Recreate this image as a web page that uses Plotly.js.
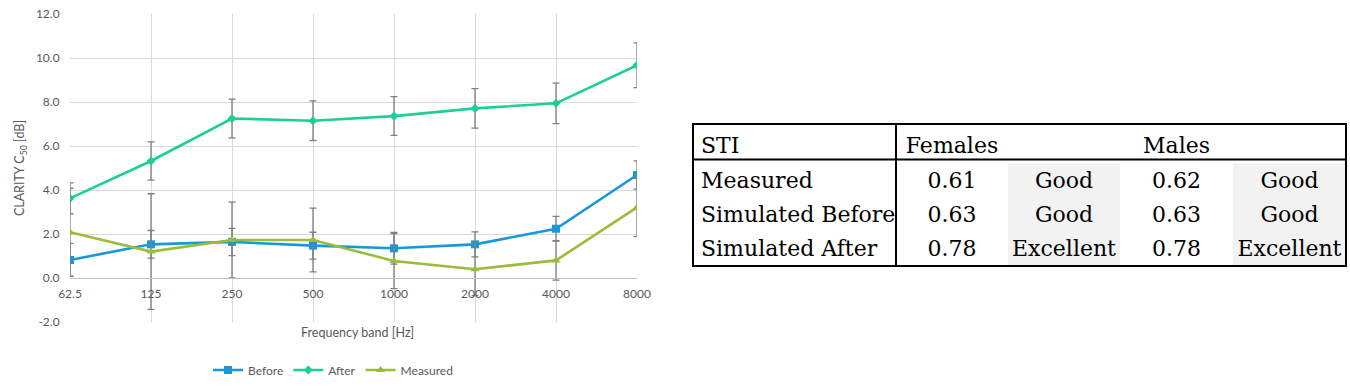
<!DOCTYPE html>
<html>
<head>
<meta charset="utf-8">
<script src="https://cdn.plot.ly/plotly-3.0.1.min.js"></script>
<style>
html,body{margin:0;padding:0;background:#fff;}
#chart{width:1350px;height:389px;}
</style>
</head>
<body>
<div id="chart"></div>
<script>
// ---- data ----
const bands = ["62.5","125","250","500","1000","2000","4000","8000"];
const before = [0.82, 1.53, 1.64, 1.47, 1.35, 1.53, 2.24, 4.68];
const beforeErr = [0.75, 0.63, 0.62, 0.61, 0.72, 0.57, 0.56, 0.64];
const after = [3.62, 5.32, 7.25, 7.15, 7.36, 7.71, 7.94, 9.67];
const afterErr = [0.7, 0.87, 0.88, 0.9, 0.88, 0.9, 0.92, 1.02];
const measured = [2.08, 1.2, 1.73, 1.73, 0.77, 0.4, 0.8, 3.21];
const measuredErr = [2.0, 2.63, 1.72, 1.45, 1.25, 1.2, 0.9, 1.33];

const yTickVals = [-2, 0, 2, 4, 6, 8, 10, 12];
const yTickText = ["-2.0", "0.0", "2.0", "4.0", "6.0", "8.0", "10.0", "12.0"];

const tableHeader = ["STI", "Females", "", "Males", ""];
const rowLabels = ["Measured", "Simulated\u00a0Before", "Simulated\u00a0After"];
const femaleSTI = ["0.61", "0.63", "0.78"];
const femaleRating = ["Good", "Good", "Excellent"];
const maleSTI = ["0.62", "0.63", "0.78"];
const maleRating = ["Good", "Good", "Excellent"];

// ---- geometry (pixels of the 1350x389 page) ----
const W = 1350, H = 389;
const plotL = 70, plotR = 637, plotT = 14, plotB = 322;
const px2x = p => p / W;
const py2y = p => (plotB - p) / (plotB - plotT);

const xIdx = bands.map((b, i) => i);
const gray = "#595959";
const serif = "DejaVu Serif";
const tSize = 22;
const errStyle = arr => ({type: "data", array: arr, visible: true, color: "#7f7f7f", thickness: 1.3, width: 3.5});

const traces = [
  {x: xIdx, y: before, name: "Before", type: "scatter", mode: "lines+markers",
   line: {color: "#1799d9", width: 2.6}, marker: {symbol: "square", size: 8, color: "#1799d9"},
   error_y: errStyle(beforeErr)},
  {x: xIdx, y: after, name: "After", type: "scatter", mode: "lines+markers",
   line: {color: "#1dcf96", width: 2.6}, marker: {symbol: "diamond", size: 7, color: "#1dcf96"},
   error_y: errStyle(afterErr)},
  {x: xIdx, y: measured, name: "Measured", type: "scatter", mode: "lines+markers",
   line: {color: "#9bbb3b", width: 2.6}, marker: {symbol: "triangle-up", size: 8, color: "#9bbb3b"},
   error_y: errStyle(measuredErr)},
  {type: "table",
   domain: {x: [px2x(693), px2x(1346)], y: [py2y(266), py2y(128)]},
   columnwidth: [203, 112, 112, 113, 113],
   header: {values: tableHeader, align: ["left", "center", "center", "center", "center"],
            height: 35, fill: {color: "#ffffff"}, line: {color: "rgba(0,0,0,0)", width: 0},
            font: {family: serif, size: tSize, color: "#000"}},
   cells: {values: [rowLabels, femaleSTI, femaleRating, maleSTI, maleRating],
           align: ["left", "center", "center", "center", "center"],
           height: 34.33,
           fill: {color: ["#ffffff", "#ffffff", "#f2f2f2", "#ffffff", "#f2f2f2"]},
           line: {color: "rgba(0,0,0,0)", width: 0},
           font: {family: serif, size: tSize, color: "#000"}}}
];

const zeroPos = (0 - (-2)) / 14;

const layout = {
  width: W, height: H,
  margin: {l: 0, r: 0, t: plotT, b: H - plotB},
  paper_bgcolor: "#fff", plot_bgcolor: "#fff",
  font: {family: "Lato, 'Open Sans', sans-serif", color: gray, size: 12},
  showlegend: true,
  legend: {orientation: "h", x: px2x(333), xanchor: "center", y: py2y(370), yanchor: "middle",
           font: {size: 12, color: gray}, itemwidth: 30, traceorder: "normal"},
  xaxis: {domain: [px2x(plotL), px2x(plotR)], range: [0, 7], tickvals: xIdx, ticktext: bands,
          showgrid: true, gridcolor: "#d9d9d9", gridwidth: 1, zeroline: false,
          anchor: "free", position: zeroPos, showline: true, linecolor: "#bfbfbf", linewidth: 1.3,
          ticks: "outside", ticklen: 4, tickcolor: "rgba(0,0,0,0)",
          tickfont: {size: 12, color: gray}, automargin: false, fixedrange: true},
  yaxis: {domain: [0, 1], range: [-2, 12], tickvals: yTickVals, ticktext: yTickText,
          showgrid: true, gridcolor: "#d9d9d9", gridwidth: 1, zeroline: false, showline: false,
          ticks: "outside", ticklen: 7, tickcolor: "rgba(0,0,0,0)",
          tickfont: {size: 12, color: gray}, automargin: false, fixedrange: true,
          title: {text: "CLARITY C<sub>50</sub> [dB]", font: {size: 12.5, color: gray}, standoff: 8}},
  annotations: [
    {text: "Frequency band [Hz]", xref: "paper", yref: "paper", x: px2x(357), y: py2y(332),
     xanchor: "center", yanchor: "middle", showarrow: false, font: {size: 12.5, color: gray}}
  ],
  shapes: [
    {type: "rect", xref: "paper", yref: "paper", x0: px2x(693), x1: px2x(1346), y0: py2y(266), y1: py2y(124),
     line: {color: "#000", width: 2}},
    {type: "line", xref: "paper", yref: "paper", x0: px2x(693), x1: px2x(1346), y0: py2y(159.5), y1: py2y(159.5),
     line: {color: "#000", width: 2}},
    {type: "line", xref: "paper", yref: "paper", x0: px2x(896), x1: px2x(896), y0: py2y(266), y1: py2y(124),
     line: {color: "#000", width: 2}}
  ]
};

Plotly.newPlot("chart", traces, layout, {staticPlot: true, displayModeBar: false});
</script>
</body>
</html>
